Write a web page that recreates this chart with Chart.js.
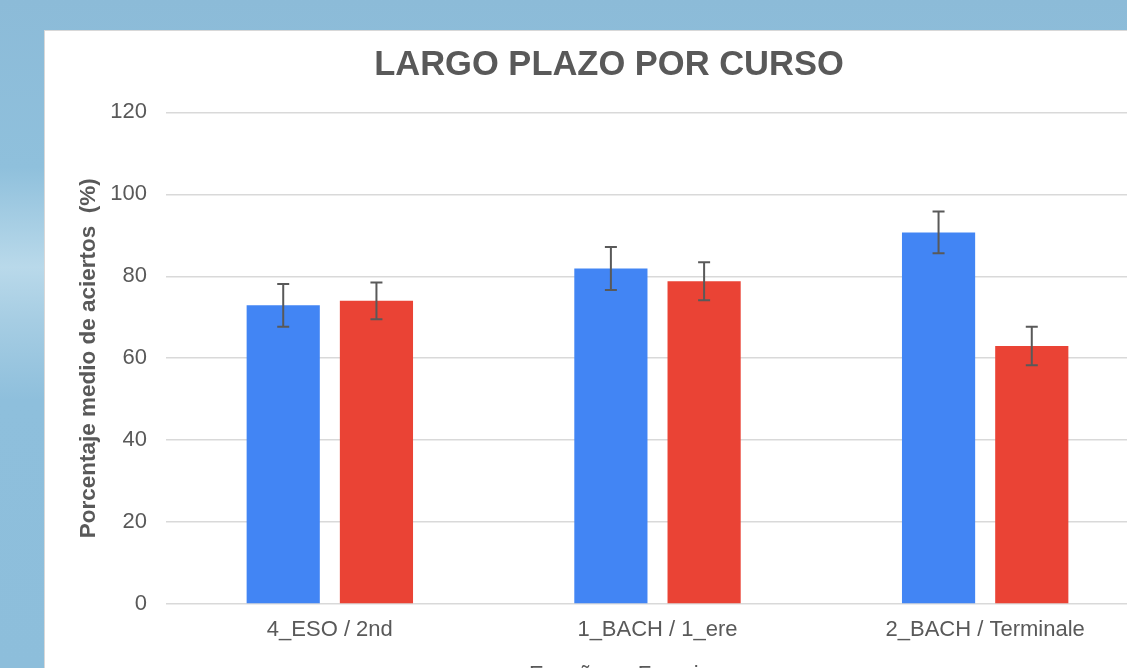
<!DOCTYPE html>
<html>
<head>
<meta charset="utf-8">
<script src="https://cdn.jsdelivr.net/npm/chart.js@4.4.1/dist/chart.umd.min.js"></script>
<style>
  html, body { margin: 0; padding: 0; }
  body {
    width: 1127px; height: 668px; overflow: hidden; position: relative;
    background: linear-gradient(180deg, #8cbbd8 0%, #8fc0dc 25%, #b9d9ea 40%, #a6cde3 48%, #8ebfdc 60%, #8dbedb 100%);
  }
  #card {
    position: absolute; left: 44px; top: 30px; width: 1128px; height: 700px;
    background: #fff; border-left: 1px solid #d8d8d8; border-top: 1px solid #d8d8d8;
  }
</style>
</head>
<body>
<div id="card"><canvas id="chart" width="1128" height="665"></canvas></div>
<script>
// datos
const cursos = ['4_ESO / 2nd', '1_BACH / 1_ere', '2_BACH / Terminale'];
const espana = [72.9, 81.9, 90.7];
const francia = [74.0, 78.8, 63.0];
const errEspana = [5.2, 5.25, 5.1];
const errFrancia = [4.5, 4.65, 4.7];

const gris = '#595959';
const fuente = 'Liberation Sans, Arial';

// barras de error con las escalas del grafico
const errorBars = {
    id: 'errorBars',
    afterDatasetsDraw(chart) {
        const ctx = chart.ctx;
        const y = chart.scales.y;
        ctx.save();
        ctx.strokeStyle = gris;
        ctx.lineWidth = 2;
        chart.data.datasets.forEach((ds, i) => {
            const meta = chart.getDatasetMeta(i);
            meta.data.forEach((bar, j) => {
                const v = ds.data[j], e = ds.errors[j];
                const top = y.getPixelForValue(v + e);
                const bot = y.getPixelForValue(v - e);
                ctx.beginPath();
                ctx.moveTo(bar.x, top); ctx.lineTo(bar.x, bot);
                ctx.moveTo(bar.x - 6, top); ctx.lineTo(bar.x + 6, top);
                ctx.moveTo(bar.x - 6, bot); ctx.lineTo(bar.x + 6, bot);
                ctx.stroke();
            });
        });
        ctx.restore();
    }
};

const ctx = document.getElementById('chart').getContext('2d');
new Chart(ctx, {
    type: 'bar',
    data: {
        labels: cursos,
        datasets: [
            { label: 'España', data: espana, errors: errEspana, backgroundColor: '#4285f4' },
            { label: 'Francia', data: francia, errors: errFrancia, backgroundColor: '#ea4335' }
        ]
    },
    options: {
        responsive: false,
        animation: false,
        categoryPercentage: 0.569,
        barPercentage: 0.785,
        layout: { padding: { left: 24, right: 24, top: 0, bottom: 0 } },
        plugins: {
            title: {
                display: true,
                text: 'LARGO PLAZO POR CURSO',
                color: gris,
                font: { family: fuente, size: 34.5, weight: 'bold' },
                padding: { top: 14, bottom: 26 }
            },
            legend: {
                position: 'bottom',
                labels: {
                    color: gris,
                    boxWidth: 11, boxHeight: 11,
                    font: { family: fuente, size: 22 },
                    padding: 12
                }
            },
            tooltip: { enabled: false }
        },
        scales: {
            x: {
                grid: { display: false, drawTicks: false },
                border: { display: false },
                ticks: {
                    color: gris, padding: 13,
                    font: { family: fuente, size: 22 }
                },
                afterFit: s => { s.height = 48; }
            },
            y: {
                min: 0, max: 120,
                ticks: {
                    stepSize: 20, color: gris, padding: 19,
                    font: { family: fuente, size: 22 }
                },
                grid: { color: '#d9d9d9', lineWidth: 1.5, drawTicks: false },
                border: { display: false },
                title: {
                    display: true,
                    text: 'Porcentaje medio de aciertos  (%)',
                    color: gris,
                    font: { family: fuente, size: 22.5, weight: 'bold' },
                    padding: { top: 6.5, bottom: 0 }
                },
                afterFit: s => { s.width = 97; }
            }
        }
    },
    plugins: [errorBars]
});
</script>
</body>
</html>
